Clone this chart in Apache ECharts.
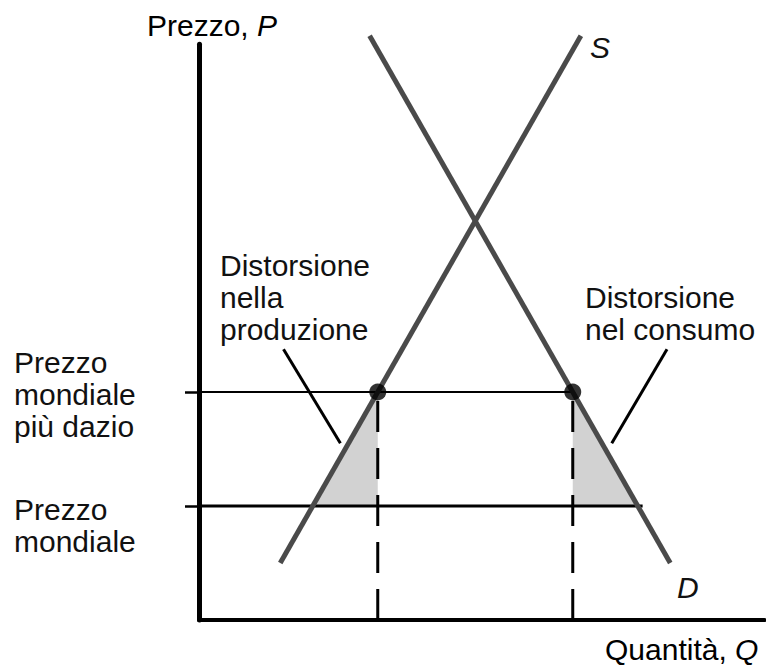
<!DOCTYPE html>
<html>
<head>
<meta charset="utf-8">
<script src="https://cdn.jsdelivr.net/npm/echarts@6/dist/echarts.min.js"></script>
<style>
  html, body { margin: 0; padding: 0; background: #ffffff; }
  #chart { width: 766px; height: 665px; }
</style>
</head>
<body>
<div id="chart"></div>
<script>
// Supply and demand curves (quantity, price)
const supplyQ = [2.5, 11.75];
const supplyP = [1, 10.25];
const demandQ = [5.25, 14.5];
const demandP = [10.25, 1];

// Price levels
const worldPrice = 2;
const tariffPrice = 4;
const priceTicks = [worldPrice, tariffPrice];

// Quantities at the two price levels
const supplyAtWorld = 3.5;
const supplyAtTariff = 5.5;
const demandAtTariff = 11.5;
const demandAtWorld = 13.5;

// Leader lines from the captions to the shaded areas
const leaderProdQ = [2.6, 4.35];
const leaderProdP = [4.75, 3.1];
const leaderConsQ = [12.7, 14.4];
const leaderConsP = [3.1, 4.75];

// Axis ranges
const qMax = 17.4;
const pMax = 10.1;

// Text
const priceAxisTitle = 'Prezzo, ';
const priceAxisSymbol = 'P';
const qtyAxisTitle = 'Quantità, ';
const qtyAxisSymbol = 'Q';
const supplyName = 'S';
const demandName = 'D';
const tariffPriceLabel = ['Prezzo', 'mondiale', 'più dazio'];
const worldPriceLabel = ['Prezzo', 'mondiale'];
const prodLossLabel = ['Distorsione', 'nella', 'produzione'];
const consLossLabel = ['Distorsione', 'nel consumo'];

const pairs = (qs, ps) => qs.map((q, i) => [q, ps[i]]);

const FONT = '"Liberation Sans", Arial, Helvetica, sans-serif';
const FS = 30;
const LH = 32;
const TXT = '#111111';
const CURVE = '#4a4a4a';

const chart = echarts.init(document.getElementById('chart'), null, { renderer: 'svg' });

function textEl(x, yMid, lines, italic) {
  return {
    type: 'text',
    x: x,
    y: yMid - LH / 2,
    silent: true,
    style: {
      text: lines.join('\n'),
      fontFamily: FONT,
      fontSize: FS,
      fontStyle: italic ? 'italic' : 'normal',
      lineHeight: LH,
      fill: TXT,
      textAlign: 'left',
      textVerticalAlign: 'top'
    }
  };
}

function axisTitle(x, yMid, title, symbol) {
  return {
    type: 'text', x: x, y: yMid - LH / 2, silent: true,
    style: {
      text: '{a|' + title + '}{b|' + symbol + '}',
      textVerticalAlign: 'top',
      rich: {
        a: { fontFamily: FONT, fontSize: FS, lineHeight: LH, color: TXT },
        b: { fontFamily: FONT, fontSize: FS, lineHeight: LH, fontStyle: 'italic', color: TXT }
      }
    }
  };
}

const lineSeries = (data, color, width, type, z) => ({
  type: 'line',
  data: data,
  symbol: 'none',
  clip: false,
  silent: true,
  animation: false,
  z: z,
  lineStyle: { color: color, width: width, type: type || 'solid', cap: 'butt' }
});

const option = {
  animation: false,
  backgroundColor: '#ffffff',
  grid: { left: 199, top: 620 - pMax * 57, width: qMax * 32.5, height: pMax * 57, outerBoundsMode: 'none' },
  xAxis: {
    type: 'value', min: 0, max: qMax,
    axisLine: { show: true, lineStyle: { color: '#000', width: 4 } },
    axisTick: { show: false }, axisLabel: { show: false }, splitLine: { show: false }
  },
  yAxis: {
    type: 'value', min: 0, max: pMax,
    axisLine: { show: true, lineStyle: { color: '#000', width: 5 } },
    axisTick: {
      show: true,
      customValues: priceTicks,
      length: 14,
      inside: false,
      lineStyle: { color: '#000', width: 2.5 }
    },
    axisLabel: { show: false }, splitLine: { show: false }
  },
  series: [
    {
      // Shaded deadweight triangles
      type: 'custom',
      clip: false,
      silent: true,
      z: 1,
      data: [
        [supplyAtWorld, worldPrice, supplyAtTariff, worldPrice, supplyAtTariff, tariffPrice],
        [demandAtTariff, tariffPrice, demandAtTariff, worldPrice, demandAtWorld, worldPrice]
      ],
      renderItem: function (params, api) {
        const pts = [0, 2, 4].map(i => api.coord([api.value(i), api.value(i + 1)]));
        return { type: 'polygon', shape: { points: pts }, style: { fill: '#d2d2d2' } };
      }
    },
    lineSeries([[0, tariffPrice], [demandAtTariff, tariffPrice]], '#000', 1.8, 'solid', 3),
    lineSeries([[0, worldPrice], [demandAtWorld + 0.15, worldPrice]], '#000', 3, 'solid', 3),
    lineSeries([[supplyAtTariff, 0], [supplyAtTariff, tariffPrice]], '#000', 3, [31, 16], 3),
    lineSeries([[demandAtTariff, 0], [demandAtTariff, tariffPrice]], '#000', 3, [31, 16], 3),
    lineSeries(pairs(leaderProdQ, leaderProdP), '#000', 3, 'solid', 3),
    lineSeries(pairs(leaderConsQ, leaderConsP), '#000', 3, 'solid', 3),
    lineSeries(pairs(supplyQ, supplyP), CURVE, 5, 'solid', 4),
    lineSeries(pairs(demandQ, demandP), CURVE, 5, 'solid', 4),
    {
      type: 'scatter',
      data: [[supplyAtTariff, tariffPrice], [demandAtTariff, tariffPrice]],
      symbol: 'circle',
      symbolSize: 17,
      itemStyle: { color: '#000' },
      silent: true,
      z: 5
    }
  ],
  graphic: [
    axisTitle(147, 25, priceAxisTitle, priceAxisSymbol),
    axisTitle(605, 649, qtyAxisTitle, qtyAxisSymbol),
    textEl(590, 47, [supplyName], true),
    textEl(677, 587, [demandName], true),
    textEl(14, 362, tariffPriceLabel, false),
    textEl(14, 509, worldPriceLabel, false),
    textEl(220, 265, prodLossLabel, false),
    textEl(585, 297, consLossLabel, false)
  ]
};

chart.setOption(option);
</script>
</body>
</html>
